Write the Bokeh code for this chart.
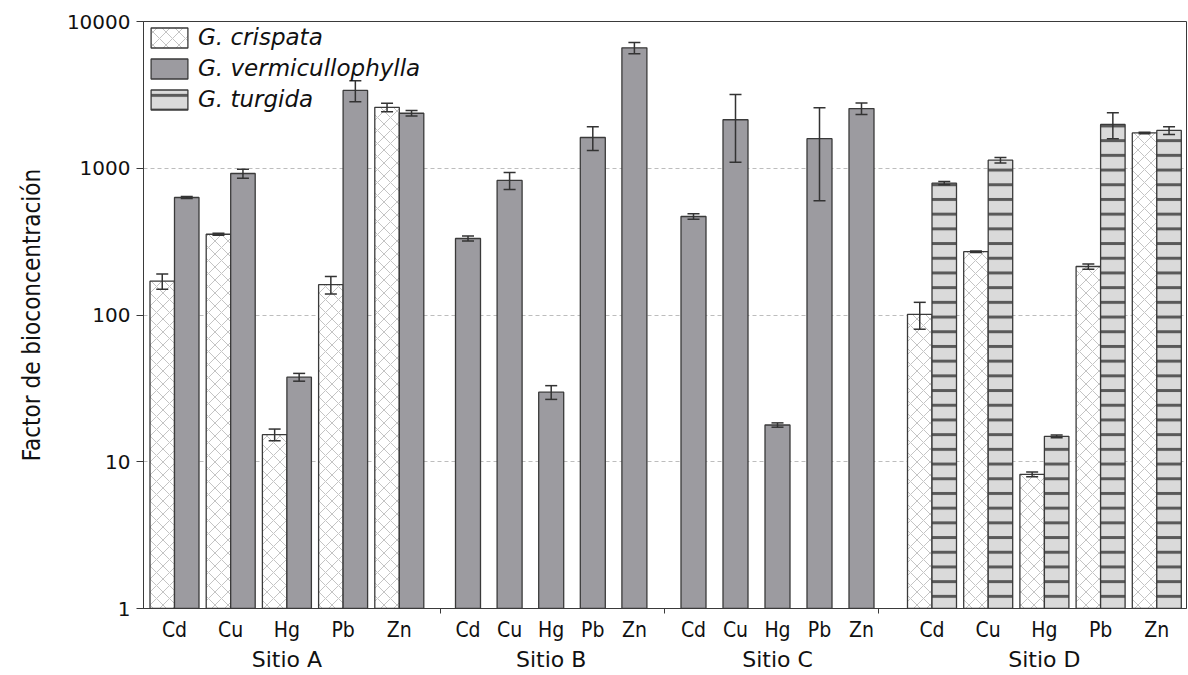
from bokeh.plotting import figure
from bokeh.models import (Range1d, FixedTicker, Whisker, ColumnDataSource, LinearAxis,
                          TeeHead, NumeralTickFormatter, CustomJSTickFormatter)
from bokeh.embed import file_html
from bokeh.resources import INLINE

# --- data -------------------------------------------------------------------
metals = ["Cd", "Cu", "Hg", "Pb", "Zn"]
sites = ["Sitio A", "Sitio B", "Sitio C", "Sitio D"]

# G. crispata (Sitio A and Sitio D)
crispata_A = [170, 355, 15.3, 161, 2600]
crispata_A_err = [20, 5, 1.4, 22, 170]
crispata_D = [101, 270, 8.2, 214, 1740]
crispata_D_err = [21, 3, 0.3, 9, 20]

# G. vermicullophylla (Sitios A, B and C)
vermi_A = [632, 921, 37.7, 3390, 2370]
vermi_A_err = [10, 65, 2.3, 550, 100]
vermi_B = [332, 826, 29.8, 1620, 6620]
vermi_B_err = [13, 110, 3.2, 300, 580]
vermi_C = [469, 2140, 17.8, 1590, 2550]
vermi_C_err = [20, 1040, 0.6, 990, 230]

# G. turgida (Sitio D)
turgida_D = [791, 1135, 14.9, 1990, 1810]
turgida_D_err = [20, 50, 0.3, 400, 110]

y_ticks = [1, 10, 100, 1000, 10000]

# --- layout of the category axis (frame pixels from the left edge) -----------
FRAME_W = 1043
site_first = {"Sitio A": 31.0, "Sitio B": 324.5, "Sitio C": 550.0, "Sitio D": 788.5}
site_step = {"Sitio A": 56.2, "Sitio B": 41.6, "Sitio C": 42.0, "Sitio D": 56.2}
site_edges = [297, 521, 735]
BAR_W = 24.5


def centers(site):
    return [site_first[site] + i * site_step[site] for i in range(len(metals))]


NARROW = "'DejaVu Sans Condensed', 'Liberation Sans', sans-serif"
WIDE = "'DejaVu Sans', sans-serif"

# --- styles -----------------------------------------------------------------
OUTLINE = "#3a3a3a"
style_crispata = dict(fill_color="white", hatch_pattern="diagonal_cross",
                      hatch_color="#c4c4c4", hatch_weight=1, hatch_scale=13)
style_vermi = dict(fill_color="#9c9ba0")
style_turgida = dict(fill_color="#dadada", hatch_pattern="horizontal_line",
                     hatch_color="#5a5a5a", hatch_weight=3, hatch_scale=14.7)

p = figure(width=1188, height=675, output_backend="svg", toolbar_location=None,
           y_axis_type="log", x_range=Range1d(0, FRAME_W), y_range=Range1d(1, 10000),
           min_border_left=143, min_border_right=2, min_border_top=21, min_border_bottom=67)
p.background_fill_color = "white"
p.border_fill_color = "white"
p.outline_line_color = OUTLINE
p.outline_line_width = 1

p.xgrid.visible = False
p.ygrid.ticker = FixedTicker(ticks=y_ticks)
p.ygrid.grid_line_color = "#bdbdbd"
p.ygrid.grid_line_dash = "4 3"
p.ygrid.grid_line_width = 1


def draw(site, vals, errs, offset, width, style, label):
    xs = [c + offset for c in centers(site)]
    src = ColumnDataSource(dict(x=xs, top=vals,
                                upper=[v + e for v, e in zip(vals, errs)],
                                lower=[v - e for v, e in zip(vals, errs)]))
    kw = dict(x="x", top="top", bottom=1, width=width, source=src,
              line_color=OUTLINE, line_width=1.3, **style)
    if label:
        kw["legend_label"] = label
    p.vbar(**kw)
    head = dict(size=12, line_color="#333333", line_width=1.5)
    p.add_layout(Whisker(source=src, base="x", upper="upper", lower="lower",
                         dimension="height", line_color="#333333", line_width=1.5,
                         level="annotation",
                         upper_head=TeeHead(**head), lower_head=TeeHead(**head)))


half = BAR_W / 2
draw("Sitio A", crispata_A, crispata_A_err, -half, BAR_W, style_crispata, "G. crispata")
draw("Sitio A", vermi_A, vermi_A_err, half, BAR_W, style_vermi, "G. vermicullophylla")
draw("Sitio B", vermi_B, vermi_B_err, 0, 25, style_vermi, None)
draw("Sitio C", vermi_C, vermi_C_err, 0, 25, style_vermi, None)
draw("Sitio D", crispata_D, crispata_D_err, -half, BAR_W, style_crispata, None)
draw("Sitio D", turgida_D, turgida_D_err, half, BAR_W, style_turgida, "G. turgida")

# --- y axis -----------------------------------------------------------------
yax = p.yaxis[0]
yax.ticker = FixedTicker(ticks=y_ticks)
yax.formatter = NumeralTickFormatter(format="0")
yax.axis_label = "Factor de bioconcentración"
yax.axis_label_text_font = NARROW
yax.axis_label_text_font_size = "24px"
yax.axis_label_text_font_style = "normal"
yax.axis_label_text_color = "#111111"
yax.axis_label_standoff = 18
yax.major_label_text_font = WIDE
yax.major_label_text_font_size = "20px"
yax.major_label_text_color = "#111111"
yax.major_label_standoff = 6
yax.major_tick_out = 7
yax.major_tick_in = 0
yax.minor_tick_out = 0
yax.minor_tick_in = 0
yax.axis_line_color = OUTLINE
yax.major_tick_line_color = OUTLINE

# --- x axis: metals under each bar pair -----------------------------------
all_centers = []
all_names = []
for s in sites:
    all_centers += centers(s)
    all_names += metals

xax = p.xaxis[0]
xax.ticker = FixedTicker(ticks=all_centers, minor_ticks=site_edges)
xax.formatter = CustomJSTickFormatter(args=dict(names=all_names), code="return names[index];")
xax.major_tick_line_color = None
xax.major_tick_out = 0
xax.major_tick_in = 0
xax.minor_tick_out = 5
xax.minor_tick_in = 0
xax.minor_tick_line_color = OUTLINE
xax.axis_line_color = OUTLINE
xax.major_label_text_font = NARROW
xax.major_label_text_font_size = "21px"
xax.major_label_text_color = "#111111"
xax.major_label_standoff = 4

# --- second row: site names centred under each group ------------------------
site_centers = [sum(centers(s)) / len(metals) for s in sites]
sax = LinearAxis(ticker=FixedTicker(ticks=site_centers),
                 formatter=CustomJSTickFormatter(args=dict(names=sites), code="return names[index];"))
sax.axis_line_color = None
sax.major_tick_line_color = None
sax.minor_tick_line_color = None
sax.major_tick_out = 0
sax.major_tick_in = 0
sax.minor_tick_out = 0
sax.minor_tick_in = 0
sax.major_label_text_font = WIDE
sax.major_label_text_font_size = "22px"
sax.major_label_text_color = "#111111"
sax.major_label_standoff = 2
p.add_layout(sax, "below")

# --- legend -----------------------------------------------------------------
lg = p.legend[0]
lg.location = "top_left"
lg.margin = 0
lg.padding = 3
lg.spacing = 5
lg.glyph_width = 46
lg.glyph_height = 25
lg.label_standoff = 6
lg.label_text_font = WIDE
lg.label_text_font_style = "italic"
lg.label_text_font_size = "23px"
lg.label_text_color = "#111111"
lg.border_line_alpha = 0
lg.background_fill_alpha = 0

open("out.html", "w").write(file_html(p, INLINE))
